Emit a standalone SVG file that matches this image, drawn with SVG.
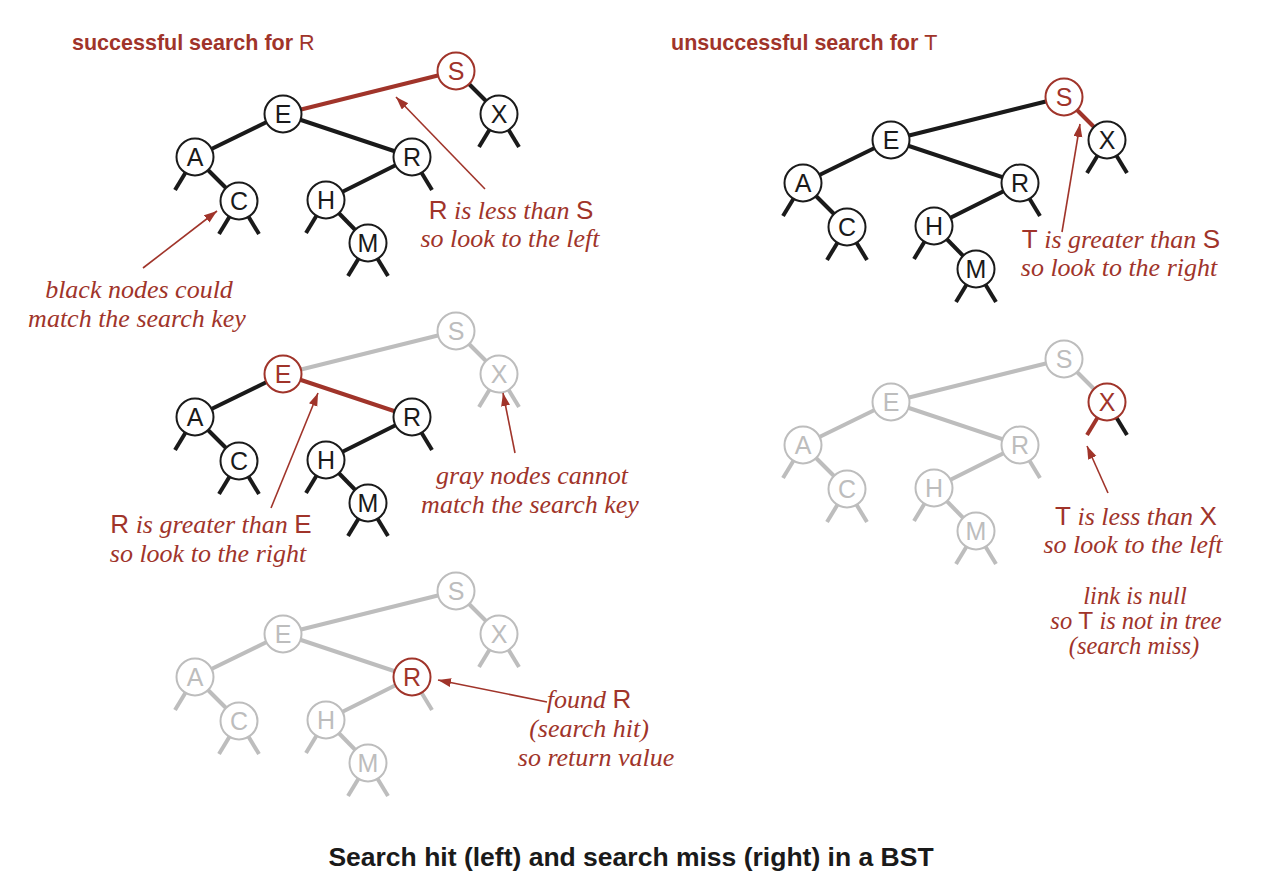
<svg xmlns="http://www.w3.org/2000/svg" width="1270" height="890" viewBox="0 0 1270 890">
<defs>
<style>
.e{stroke:#1a1a1a;stroke-width:4;fill:none}
.e.r{stroke:#a0342a}
.e.g{stroke:#bdbdbd}
.n circle{fill:#fff;stroke:#1a1a1a;stroke-width:2}
.n text{font-family:"Liberation Sans",Arial,sans-serif;font-size:25px;text-anchor:middle;fill:#1a1a1a}
.n.r circle{stroke:#a0342a}
.n.r text{fill:#a0342a}
.n.g circle{stroke:#bdbdbd}
.n.g text{fill:#bdbdbd}
.a{stroke:#a0342a;stroke-width:1.6;fill:none}
.note{font-family:"Liberation Serif","Times New Roman",serif;font-style:italic;font-size:26px;fill:#a0342a;text-anchor:middle}
.sm{font-size:24.5px}
.k{font-family:"Liberation Sans",Arial,sans-serif;font-style:normal}
.title{font-family:"Liberation Sans",Arial,sans-serif;font-weight:bold;font-size:21.5px;fill:#a0342a}
.tk{font-weight:normal}
.cap{font-family:"Liberation Sans",Arial,sans-serif;font-weight:bold;font-size:26.5px;fill:#1a1a1a;text-anchor:middle}
</style>
<marker id="ah" markerUnits="userSpaceOnUse" markerWidth="14" markerHeight="10" refX="13" refY="4.5" orient="auto">
<path d="M0,0 L13,4.5 L0,9 z" fill="#a0342a"/>
</marker>
</defs>
<rect width="1270" height="890" fill="#fff"/>

<text class="title" x="72" y="50">successful search for <tspan class="tk">R</tspan></text>
<text class="title" x="671" y="50">unsuccessful search for <tspan class="tk">T</tspan></text>

<!-- Tree 1 -->
<g id="tree1">
<g id="t1-links">
<line class="e r" x1="456" y1="71" x2="283" y2="114"/>
<line class="e" x1="456" y1="71" x2="499" y2="114"/>
<line class="e" x1="283" y1="114" x2="195" y2="157"/>
<line class="e" x1="283" y1="114" x2="412" y2="157"/>
<line class="e" x1="195" y1="157" x2="239" y2="201"/>
<line class="e" x1="412" y1="157" x2="326" y2="200"/>
<line class="e" x1="326" y1="200" x2="368" y2="243"/>
<line class="e" x1="195" y1="157" x2="175" y2="190"/>
<line class="e" x1="239" y1="201" x2="219" y2="234"/>
<line class="e" x1="239" y1="201" x2="259" y2="234"/>
<line class="e" x1="499" y1="114" x2="479" y2="147"/>
<line class="e" x1="499" y1="114" x2="519" y2="147"/>
<line class="e" x1="412" y1="157" x2="432" y2="190"/>
<line class="e" x1="326" y1="200" x2="306" y2="233"/>
<line class="e" x1="368" y1="243" x2="348" y2="276"/>
<line class="e" x1="368" y1="243" x2="388" y2="276"/>
</g>
<g id="t1-S" class="n r"><circle cx="456" cy="71" r="18.5"/><text x="456" y="80">S</text></g>
<g id="t1-E" class="n"><circle cx="283" cy="114" r="18.5"/><text x="283" y="123">E</text></g>
<g id="t1-X" class="n"><circle cx="499" cy="114" r="18.5"/><text x="499" y="123">X</text></g>
<g id="t1-A" class="n"><circle cx="195" cy="157" r="18.5"/><text x="195" y="166">A</text></g>
<g id="t1-R" class="n"><circle cx="412" cy="157" r="18.5"/><text x="412" y="166">R</text></g>
<g id="t1-C" class="n"><circle cx="239" cy="201" r="18.5"/><text x="239" y="210">C</text></g>
<g id="t1-H" class="n"><circle cx="326" cy="200" r="18.5"/><text x="326" y="209">H</text></g>
<g id="t1-M" class="n"><circle cx="368" cy="243" r="18.5"/><text x="368" y="252">M</text></g>
</g>

<!-- Tree 2 -->
<g id="tree2" transform="translate(608,26)">
<g id="t2-links">
<line class="e" x1="456" y1="71" x2="283" y2="114"/>
<line class="e r" x1="456" y1="71" x2="499" y2="114"/>
<line class="e" x1="283" y1="114" x2="195" y2="157"/>
<line class="e" x1="283" y1="114" x2="412" y2="157"/>
<line class="e" x1="195" y1="157" x2="239" y2="201"/>
<line class="e" x1="412" y1="157" x2="326" y2="200"/>
<line class="e" x1="326" y1="200" x2="368" y2="243"/>
<line class="e" x1="195" y1="157" x2="175" y2="190"/>
<line class="e" x1="239" y1="201" x2="219" y2="234"/>
<line class="e" x1="239" y1="201" x2="259" y2="234"/>
<line class="e" x1="499" y1="114" x2="479" y2="147"/>
<line class="e" x1="499" y1="114" x2="519" y2="147"/>
<line class="e" x1="412" y1="157" x2="432" y2="190"/>
<line class="e" x1="326" y1="200" x2="306" y2="233"/>
<line class="e" x1="368" y1="243" x2="348" y2="276"/>
<line class="e" x1="368" y1="243" x2="388" y2="276"/>
</g>
<g id="t2-S" class="n r"><circle cx="456" cy="71" r="18.5"/><text x="456" y="80">S</text></g>
<g id="t2-E" class="n"><circle cx="283" cy="114" r="18.5"/><text x="283" y="123">E</text></g>
<g id="t2-X" class="n"><circle cx="499" cy="114" r="18.5"/><text x="499" y="123">X</text></g>
<g id="t2-A" class="n"><circle cx="195" cy="157" r="18.5"/><text x="195" y="166">A</text></g>
<g id="t2-R" class="n"><circle cx="412" cy="157" r="18.5"/><text x="412" y="166">R</text></g>
<g id="t2-C" class="n"><circle cx="239" cy="201" r="18.5"/><text x="239" y="210">C</text></g>
<g id="t2-H" class="n"><circle cx="326" cy="200" r="18.5"/><text x="326" y="209">H</text></g>
<g id="t2-M" class="n"><circle cx="368" cy="243" r="18.5"/><text x="368" y="252">M</text></g>
</g>

<!-- Tree 3 -->
<g id="tree3" transform="translate(0,260)">
<g id="t3-links">
<line class="e g" x1="456" y1="71" x2="283" y2="114"/>
<line class="e g" x1="456" y1="71" x2="499" y2="114"/>
<line class="e" x1="283" y1="114" x2="195" y2="157"/>
<line class="e r" x1="283" y1="114" x2="412" y2="157"/>
<line class="e" x1="195" y1="157" x2="239" y2="201"/>
<line class="e" x1="412" y1="157" x2="326" y2="200"/>
<line class="e" x1="326" y1="200" x2="368" y2="243"/>
<line class="e" x1="195" y1="157" x2="175" y2="190"/>
<line class="e" x1="239" y1="201" x2="219" y2="234"/>
<line class="e" x1="239" y1="201" x2="259" y2="234"/>
<line class="e g" x1="499" y1="114" x2="479" y2="147"/>
<line class="e g" x1="499" y1="114" x2="519" y2="147"/>
<line class="e" x1="412" y1="157" x2="432" y2="190"/>
<line class="e" x1="326" y1="200" x2="306" y2="233"/>
<line class="e" x1="368" y1="243" x2="348" y2="276"/>
<line class="e" x1="368" y1="243" x2="388" y2="276"/>
</g>
<g id="t3-S" class="n g"><circle cx="456" cy="71" r="18.5"/><text x="456" y="80">S</text></g>
<g id="t3-E" class="n r"><circle cx="283" cy="114" r="18.5"/><text x="283" y="123">E</text></g>
<g id="t3-X" class="n g"><circle cx="499" cy="114" r="18.5"/><text x="499" y="123">X</text></g>
<g id="t3-A" class="n"><circle cx="195" cy="157" r="18.5"/><text x="195" y="166">A</text></g>
<g id="t3-R" class="n"><circle cx="412" cy="157" r="18.5"/><text x="412" y="166">R</text></g>
<g id="t3-C" class="n"><circle cx="239" cy="201" r="18.5"/><text x="239" y="210">C</text></g>
<g id="t3-H" class="n"><circle cx="326" cy="200" r="18.5"/><text x="326" y="209">H</text></g>
<g id="t3-M" class="n"><circle cx="368" cy="243" r="18.5"/><text x="368" y="252">M</text></g>
</g>

<!-- Tree 4 -->
<g id="tree4" transform="translate(608,288)">
<g id="t4-links">
<line class="e g" x1="456" y1="71" x2="283" y2="114"/>
<line class="e g" x1="456" y1="71" x2="499" y2="114"/>
<line class="e g" x1="283" y1="114" x2="195" y2="157"/>
<line class="e g" x1="283" y1="114" x2="412" y2="157"/>
<line class="e g" x1="195" y1="157" x2="239" y2="201"/>
<line class="e g" x1="412" y1="157" x2="326" y2="200"/>
<line class="e g" x1="326" y1="200" x2="368" y2="243"/>
<line class="e g" x1="195" y1="157" x2="175" y2="190"/>
<line class="e g" x1="239" y1="201" x2="219" y2="234"/>
<line class="e g" x1="239" y1="201" x2="259" y2="234"/>
<line class="e r" x1="499" y1="114" x2="479" y2="147"/>
<line class="e" x1="499" y1="114" x2="519" y2="147"/>
<line class="e g" x1="412" y1="157" x2="432" y2="190"/>
<line class="e g" x1="326" y1="200" x2="306" y2="233"/>
<line class="e g" x1="368" y1="243" x2="348" y2="276"/>
<line class="e g" x1="368" y1="243" x2="388" y2="276"/>
</g>
<g id="t4-S" class="n g"><circle cx="456" cy="71" r="18.5"/><text x="456" y="80">S</text></g>
<g id="t4-E" class="n g"><circle cx="283" cy="114" r="18.5"/><text x="283" y="123">E</text></g>
<g id="t4-X" class="n r"><circle cx="499" cy="114" r="18.5"/><text x="499" y="123">X</text></g>
<g id="t4-A" class="n g"><circle cx="195" cy="157" r="18.5"/><text x="195" y="166">A</text></g>
<g id="t4-R" class="n g"><circle cx="412" cy="157" r="18.5"/><text x="412" y="166">R</text></g>
<g id="t4-C" class="n g"><circle cx="239" cy="201" r="18.5"/><text x="239" y="210">C</text></g>
<g id="t4-H" class="n g"><circle cx="326" cy="200" r="18.5"/><text x="326" y="209">H</text></g>
<g id="t4-M" class="n g"><circle cx="368" cy="243" r="18.5"/><text x="368" y="252">M</text></g>
</g>

<!-- Tree 5 -->
<g id="tree5" transform="translate(0,520)">
<g id="t5-links">
<line class="e g" x1="456" y1="71" x2="283" y2="114"/>
<line class="e g" x1="456" y1="71" x2="499" y2="114"/>
<line class="e g" x1="283" y1="114" x2="195" y2="157"/>
<line class="e g" x1="283" y1="114" x2="412" y2="157"/>
<line class="e g" x1="195" y1="157" x2="239" y2="201"/>
<line class="e g" x1="412" y1="157" x2="326" y2="200"/>
<line class="e g" x1="326" y1="200" x2="368" y2="243"/>
<line class="e g" x1="195" y1="157" x2="175" y2="190"/>
<line class="e g" x1="239" y1="201" x2="219" y2="234"/>
<line class="e g" x1="239" y1="201" x2="259" y2="234"/>
<line class="e g" x1="499" y1="114" x2="479" y2="147"/>
<line class="e g" x1="499" y1="114" x2="519" y2="147"/>
<line class="e g" x1="412" y1="157" x2="432" y2="190"/>
<line class="e g" x1="326" y1="200" x2="306" y2="233"/>
<line class="e g" x1="368" y1="243" x2="348" y2="276"/>
<line class="e g" x1="368" y1="243" x2="388" y2="276"/>
</g>
<g id="t5-S" class="n g"><circle cx="456" cy="71" r="18.5"/><text x="456" y="80">S</text></g>
<g id="t5-E" class="n g"><circle cx="283" cy="114" r="18.5"/><text x="283" y="123">E</text></g>
<g id="t5-X" class="n g"><circle cx="499" cy="114" r="18.5"/><text x="499" y="123">X</text></g>
<g id="t5-A" class="n g"><circle cx="195" cy="157" r="18.5"/><text x="195" y="166">A</text></g>
<g id="t5-R" class="n r"><circle cx="412" cy="157" r="18.5"/><text x="412" y="166">R</text></g>
<g id="t5-C" class="n g"><circle cx="239" cy="201" r="18.5"/><text x="239" y="210">C</text></g>
<g id="t5-H" class="n g"><circle cx="326" cy="200" r="18.5"/><text x="326" y="209">H</text></g>
<g id="t5-M" class="n g"><circle cx="368" cy="243" r="18.5"/><text x="368" y="252">M</text></g>
</g>

<!-- Annotation arrows -->
<g id="arrows">
<line class="a" x1="485" y1="189" x2="396" y2="97" marker-end="url(#ah)"/>
<line class="a" x1="143" y1="268" x2="217" y2="211" marker-end="url(#ah)"/>
<line class="a" x1="1062" y1="232" x2="1080" y2="124" marker-end="url(#ah)"/>
<line class="a" x1="271" y1="508" x2="318" y2="393" marker-end="url(#ah)"/>
<line class="a" x1="515" y1="453" x2="503" y2="393" marker-end="url(#ah)"/>
<line class="a" x1="1108" y1="493" x2="1087" y2="446" marker-end="url(#ah)"/>
<line class="a" x1="547" y1="702" x2="438" y2="680" marker-end="url(#ah)"/>
</g>

<!-- Annotation texts -->
<g id="notes">
<text class="note" x="511" y="219"><tspan class="k">R</tspan> is less than <tspan class="k">S</tspan></text>
<text class="note" x="510" y="247">so look to the left</text>
<text class="note" x="139" y="298">black nodes could</text>
<text class="note" x="137" y="327">match the search key</text>
<text class="note" x="1121" y="248"><tspan class="k">T</tspan> is greater than <tspan class="k">S</tspan></text>
<text class="note" x="1119" y="276">so look to the right</text>
<text class="note" x="211" y="533"><tspan class="k">R</tspan> is greater than <tspan class="k">E</tspan></text>
<text class="note" x="208" y="562">so look to the right</text>
<text class="note" x="532" y="484">gray nodes cannot</text>
<text class="note" x="530" y="513">match the search key</text>
<text class="note" x="1136" y="525"><tspan class="k">T</tspan> is less than <tspan class="k">X</tspan></text>
<text class="note" x="1133" y="553">so look to the left</text>
<text class="note sm" x="1135" y="604">link is null</text>
<text class="note sm" x="1136" y="629">so <tspan class="k">T</tspan> is not in tree</text>
<text class="note sm" x="1134" y="654">(search miss)</text>
<text class="note" x="589" y="708">found <tspan class="k">R</tspan></text>
<text class="note" x="589" y="737">(search hit)</text>
<text class="note" x="596" y="766">so return value</text>
</g>

<text class="cap" x="631" y="866">Search hit (left) and search miss (right) in a BST</text>
</svg>
